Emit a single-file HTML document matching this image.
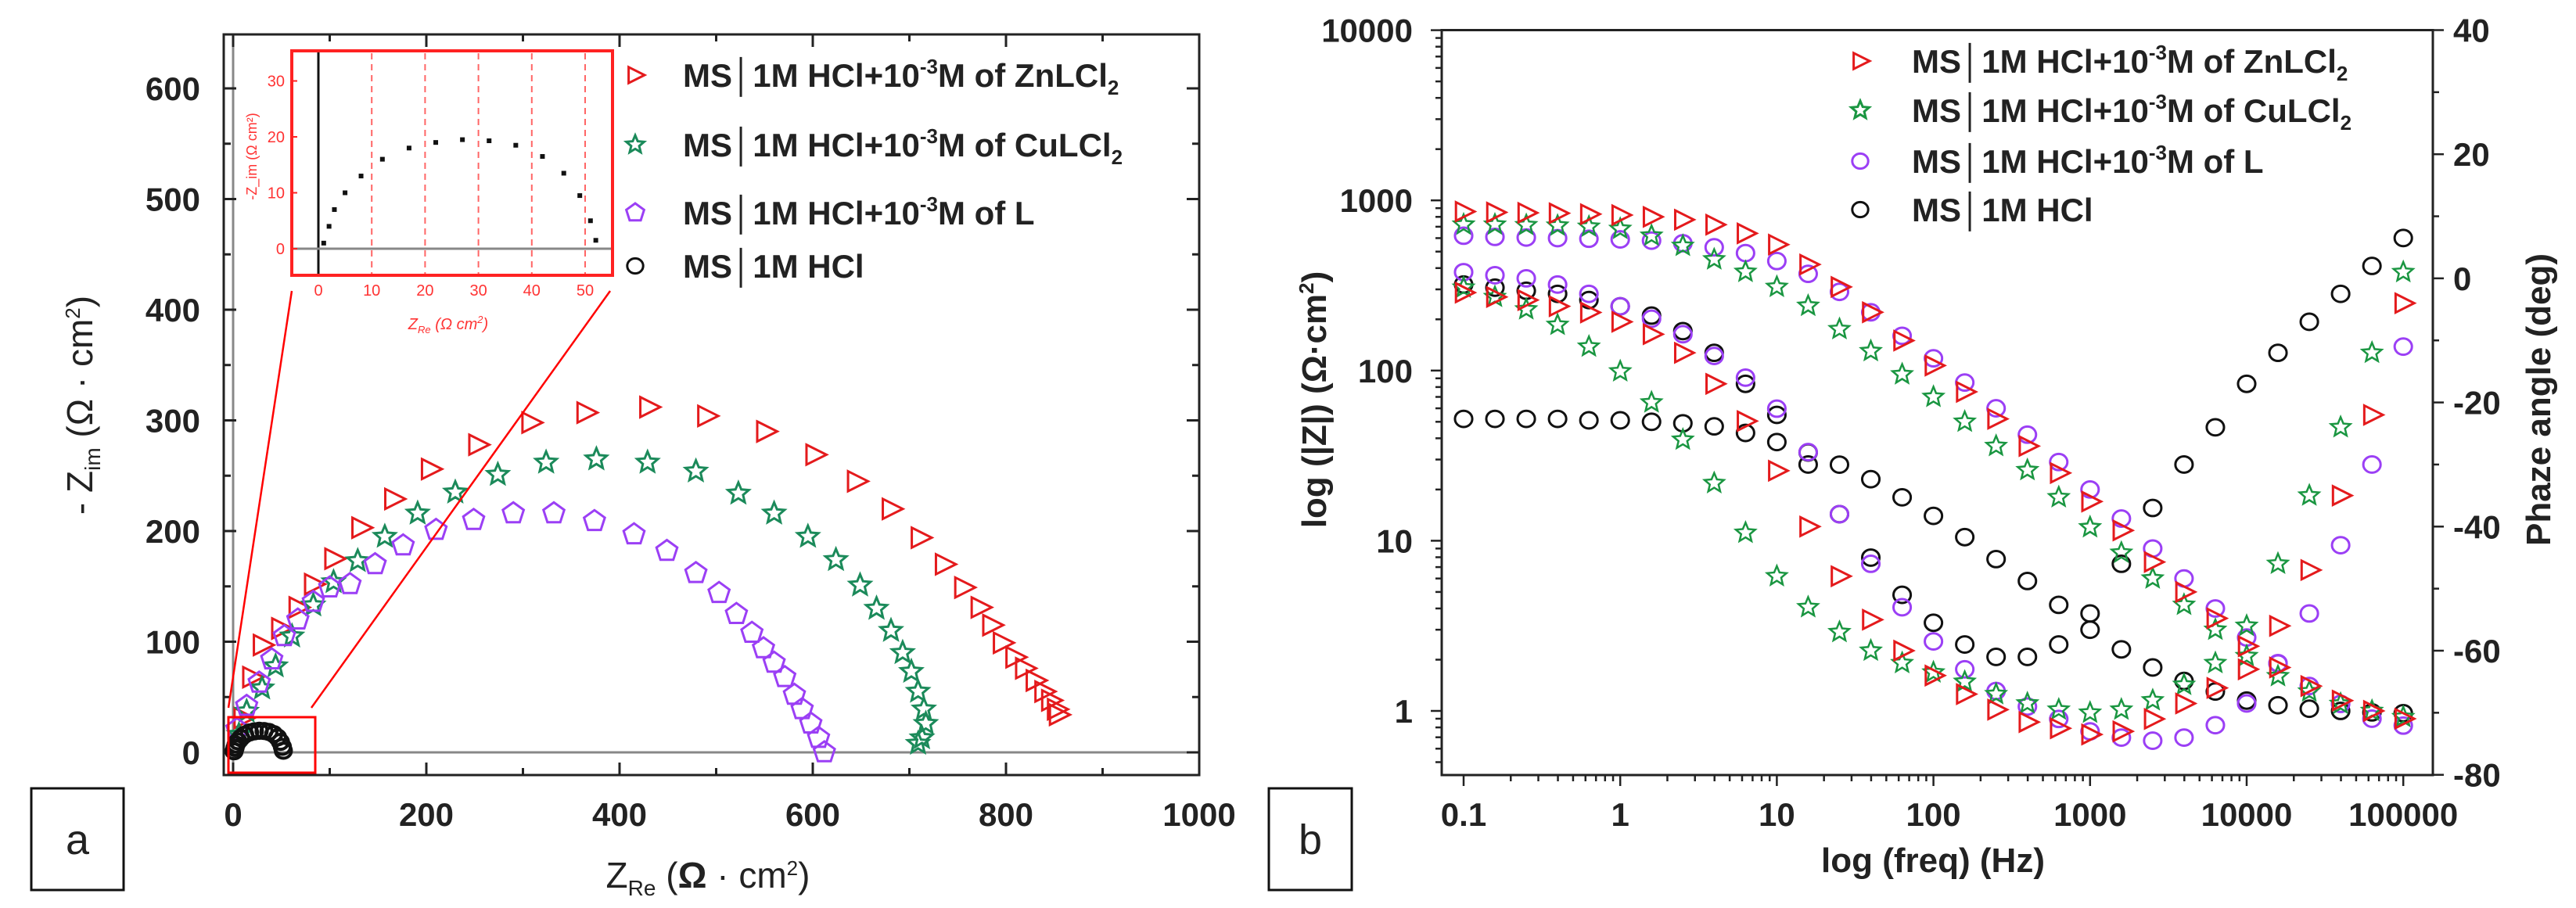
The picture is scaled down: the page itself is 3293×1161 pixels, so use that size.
<!DOCTYPE html>
<html><head><meta charset="utf-8"><style>
html,body{margin:0;padding:0;background:#fff;}
svg{display:block;font-family:"Liberation Sans",sans-serif;}
</style></head><body>
<svg id="chart" width="3293" height="1161" viewBox="0 0 3293 1161" xmlns="http://www.w3.org/2000/svg">
<g id="ga"></g>
<g id="gb"></g>
</svg>
<script>
// ---------- Panel a data (Nyquist) ----------
const znRe = [10,19,30,49,67,83,104,132,166,204,253,308,365,430,490,551,602,645,681,711,736,756,773,785,796,809,819,830,839,846,852,854];
const znIm = [31,68,97,112,131,152,175,203,229,256,278,298,307,312,304,290,269,245,220,194,170,149,131,115,99,86,76,65,55,47,39,34];
const cuRe = [6,14,30,44,61,83,104,129,157,191,230,274,324,376,429,479,523,560,595,624,649,666,681,693,702,709,715,717,713,709];
const cuIm = [16,37,58,78,105,133,154,173,195,216,235,251,262,265,262,254,234,216,195,174,151,130,110,90,73,55,39,26,13,8];
const lRe = [4,14,27,40,53,67,83,100,121,147,176,210,249,290,332,374,415,449,479,503,521,537,549,560,571,581,589,598,606,612];
const lIm = [21,42,63,84,105,120,136,149,152,170,187,201,210,216,216,209,197,182,162,144,125,108,94,81,68,52,39,26,13,0];
const hclRe = [1,2,3,5,8,12,17,22,27,32,37,42,46,49,51,52];
const hclIm = [1,4,7,10,13,16,18,19,19.5,19.3,18.5,16.5,13.5,9.5,5,1.5];
const aXTicks = [0,200,400,600,800,1000];
const aYTicks = [0,100,200,300,400,500,600];
const insetXTicks = [0,10,20,30,40,50];
const insetYTicks = [0,10,20,30];
// ---------- Panel b data (Bode) ----------
const logFreq = [-1,-0.8,-0.6,-0.4,-0.2,0,0.2,0.4,0.6,0.8,1,1.2,1.4,1.6,1.8,2,2.2,2.4,2.6,2.8,3,3.2,3.4,3.6,3.8,4,4.2,4.4,4.6,4.8,5];
const znZ = [860,850,845,840,830,820,800,770,720,640,550,420,310,220,150,107,75,52,36,25,17,11.5,7.5,5,3.5,2.4,1.8,1.4,1.15,1.0,0.9];
const cuZ = [720,720,715,710,700,680,620,540,450,380,310,240,175,130,95,70,50,36,26,18,12,8.5,6,4.2,3,2.1,1.6,1.3,1.1,1.0,0.92];
const lZ = [620,610,605,600,595,590,580,560,530,490,440,370,290,220,160,118,85,60,42,29,20,13.5,9,6,4,2.7,1.9,1.4,1.1,0.9,0.82];
const hclZ = [52,52,52,52,51,51,50,49,47,43,38,33,28,23,18,14,10.5,7.8,5.8,4.2,3.0,2.3,1.8,1.5,1.3,1.15,1.08,1.03,1.0,0.98,0.97];
const znPh = [-2.3,-3,-3.5,-4.5,-5.5,-7,-9,-12,-17,-23,-31,-40,-48,-55,-60,-64,-67,-69.5,-71.5,-72.5,-73.5,-73,-71,-68.5,-66,-63,-56,-47,-35,-22,-4];
const cuPh = [-1.5,-3,-5,-7.5,-11,-15,-20,-26,-33,-41,-48,-53,-57,-60,-62,-63.5,-65,-67,-68.5,-69.5,-70,-69.5,-68,-65.5,-62,-56,-46,-35,-24,-12,1];
const lPh = [1,0.5,0,-1,-2.5,-4.5,-6.5,-9,-12.5,-16,-21,-28,-38,-46,-53,-58.5,-63,-66.5,-69,-71,-73,-74,-74.5,-74,-72,-68.5,-62,-54,-43,-30,-11];
const hclPh = [-1,-1.5,-2,-2.5,-3.5,-4.5,-6,-8.5,-12,-17,-22,-30,-38,-45,-51,-55.5,-59,-61,-61,-59,-54,-46,-37,-30,-24,-17,-12,-7,-2.5,2,6.5];
const bXTicks = [0.1,1,10,100,1000,10000,100000];
const bXTickLabels = ["0.1","1","10","100","1000","10000","100000"];
const bYTicks = [1,10,100,1000,10000];
const bPhTicks = [-80,-60,-40,-20,0,20,40];

const NS="http://www.w3.org/2000/svg";
const RED="#e41a1c", GREEN="#1a9641", TEAL="#1b8a5a", PURPLE="#9b3ff5", BLACK="#111";
function mk(parent, tag, attrs){const e=document.createElementNS(NS,tag);for(const k in attrs)e.setAttribute(k,attrs[k]);parent.appendChild(e);return e;}
function txt(parent, x,y,s,attrs){const e=mk(parent,'text',Object.assign({x:x,y:y},attrs||{}));e.textContent=s;return e;}
function marker(g, shape, cx, cy, r, color, sw){
  let e;
  if(shape==='tri'){e=mk(g,'polygon',{points:`${cx-r*0.7},${cy-r*0.85} ${cx+r},${cy} ${cx-r*0.7},${cy+r*0.85}`});}
  else if(shape==='star'){let p=[];for(let i=0;i<10;i++){const a=-Math.PI/2+i*Math.PI/5;const rr=i%2?r*0.45:r;p.push((cx+rr*Math.cos(a)).toFixed(1)+','+(cy+rr*Math.sin(a)).toFixed(1));}e=mk(g,'polygon',{points:p.join(' ')});}
  else if(shape==='pent'){let p=[];for(let i=0;i<5;i++){const a=-Math.PI/2+i*2*Math.PI/5;p.push((cx+r*Math.cos(a)).toFixed(1)+','+(cy+r*Math.sin(a)).toFixed(1));}e=mk(g,'polygon',{points:p.join(' ')});}
  else {e=mk(g,'ellipse',{cx:cx,cy:cy,rx:r*0.85,ry:r*0.8});}
  e.setAttribute('fill','none');e.setAttribute('stroke',color);e.setAttribute('stroke-width',sw||3);
  return e;
}
const TF={'font-size':42,'font-weight':'bold',fill:'#222','font-family':'"Liberation Sans",sans-serif'};

// ================= Panel a =================
const ga=document.getElementById('ga');
const aL=286,aR=1533,aT=44,aB=991;
const ax=v=>298+v*1.235, ay=v=>962-v*1.415;
mk(ga,'rect',{x:aL,y:aT,width:aR-aL,height:aB-aT,fill:'none',stroke:'#222','stroke-width':3});
mk(ga,'line',{x1:aL,x2:aR,y1:ay(0),y2:ay(0),stroke:'#888','stroke-width':3});
mk(ga,'line',{x1:ax(0),x2:ax(0),y1:aT,y2:aB,stroke:'#888','stroke-width':3});
for(let v=0;v<=1000;v+=100){const L=v%200===0?16:9;mk(ga,'line',{x1:ax(v),x2:ax(v),y1:aB,y2:aB-L,stroke:'#222','stroke-width':3});mk(ga,'line',{x1:ax(v),x2:ax(v),y1:aT,y2:aT+L,stroke:'#222','stroke-width':3});}
for(let v=0;v<=650;v+=50){if(ay(v)<aT)continue;const L=v%100===0?16:9;mk(ga,'line',{x1:aL,x2:aL+L,y1:ay(v),y2:ay(v),stroke:'#222','stroke-width':3});mk(ga,'line',{x1:aR,x2:aR-L,y1:ay(v),y2:ay(v),stroke:'#222','stroke-width':3});}
aXTicks.forEach(v=>{const t=txt(ga,ax(v),1056,String(v),Object.assign({'text-anchor':'middle'},TF));});
aYTicks.forEach(v=>{const t=txt(ga,256,ay(v)+15,String(v),Object.assign({'text-anchor':'end'},TF));});
// titles
let t=txt(ga,905,1135,'',{'text-anchor':'middle','font-size':46,fill:'#222'});
t.innerHTML='Z<tspan font-size="28" dy="10">Re</tspan><tspan dy="-10"> (</tspan><tspan font-weight="bold">Ω</tspan> · cm<tspan font-size="26" dy="-16">2</tspan><tspan dy="16">)</tspan>';

t=txt(ga,0,0,'',{'text-anchor':'middle','font-size':46,fill:'#222',transform:'translate(118,518) rotate(-90)'});
t.innerHTML='- Z<tspan font-size="28" dy="10">im</tspan><tspan dy="-10"> (Ω · cm</tspan><tspan font-size="26" dy="-16">2</tspan><tspan dy="16">)</tspan>';

// series
const sa=mk(ga,'g',{});

znRe.forEach((v,i)=>{const m=marker(sa,'tri',ax(v),ay(znIm[i]),15,RED,3);});
cuRe.forEach((v,i)=>{const m=marker(sa,'star',ax(v),ay(cuIm[i]),14,TEAL,3);});
lRe.forEach((v,i)=>{const m=marker(sa,'pent',ax(v),ay(lIm[i]),14,PURPLE,3);});
hclRe.forEach((v,i)=>{const m=marker(sa,'circ',ax(v),ay(hclIm[i]),12,BLACK,4);});
// zoom box + lines
mk(ga,'rect',{x:292,y:917,width:111,height:71,fill:'none',stroke:'#f00','stroke-width':3});
mk(ga,'line',{x1:373,y1:372,x2:292,y2:905,stroke:'#f00','stroke-width':2.5});
mk(ga,'line',{x1:780,y1:372,x2:398,y2:905,stroke:'#f00','stroke-width':2.5});
// inset
const gi=mk(ga,'g',{});

mk(gi,'rect',{x:373,y:65,width:410,height:287,fill:'#fff',stroke:'none'});
const ix=v=>407+v*6.82, iy=v=>318-v*7.15;
insetXTicks.forEach(v=>{if(v>0)mk(gi,'line',{x1:ix(v),x2:ix(v),y1:68,y2:350,stroke:'#f66','stroke-width':2,'stroke-dasharray':'8 6'});});
mk(gi,'line',{x1:ix(0),x2:ix(0),y1:65,y2:352,stroke:'#111','stroke-width':3});
mk(gi,'line',{x1:373,x2:783,y1:iy(0),y2:iy(0),stroke:'#888','stroke-width':3});
mk(gi,'rect',{x:373,y:65,width:410,height:287,fill:'none',stroke:'#f22','stroke-width':4});
insetXTicks.forEach(v=>{const e=txt(gi,ix(v),378,String(v),{'text-anchor':'middle','font-size':20,fill:'#f33'});});
insetYTicks.forEach(v=>{const e=txt(gi,364,iy(v)+7,String(v),{'text-anchor':'end','font-size':20,fill:'#f33'});mk(gi,'line',{x1:373,x2:380,y1:iy(v),y2:iy(v),stroke:'#f22','stroke-width':2});});
hclRe.forEach((v,i)=>{const d=mk(gi,'rect',{x:ix(v)-3,y:iy(hclIm[i])-3,width:6,height:6,fill:'#111'});});
t=txt(gi,573,421,'',{'text-anchor':'middle','font-size':20,fill:'#f33','font-style':'italic'});
t.innerHTML='Z<tspan font-size="13" dy="5">Re</tspan><tspan dy="-5"> (Ω cm</tspan><tspan font-size="13" dy="-8">2</tspan><tspan dy="8">)</tspan>';

t=txt(gi,0,0,'-Z_im (Ω cm²)',{'text-anchor':'middle','font-size':18,fill:'#f33',transform:'translate(328,200) rotate(-90)'});

// legend a
const la=mk(ga,'g',{});

const legA=[['tri',RED,'MS│1M HCl+10','ZnLCl'],['star',TEAL,'MS│1M HCl+10','CuLCl'],['pent',PURPLE,'MS│1M HCl+10','L'],['circ',BLACK,'MS│1M HCl','']];
const legAy=[96,185,272,340];
legA.forEach((d,i)=>{marker(la,d[0],812,legAy[i],12,d[1],3);const e=txt(la,873,legAy[i]+15,'',{'font-size':42,'font-weight':'bold',fill:'#222'});
 if(i<3){e.innerHTML=d[2]+'<tspan font-size="26" dy="-17">-3</tspan><tspan dy="17">M of '+d[3]+'</tspan>'+(i<2?'<tspan font-size="26" dy="10">2</tspan>':'');}else e.textContent=d[2];
 });
// label box a
mk(ga,'rect',{x:40,y:1008,width:118,height:130,fill:'#fff',stroke:'#111','stroke-width':3});
t=txt(ga,99,1092,'a',{'text-anchor':'middle','font-size':54,fill:'#222'});


// ================= Panel b =================
const gb=document.getElementById('gb');
const bL=1843,bR=3110,bT=38.5,bB=991;
const bx=f=>1871+(Math.log10(f)+1)*200.2;
const bxl=l=>1871+(l+1)*200.2;
const by=z=>909-Math.log10(z)*217.6;
const bp=p=>38.5+(40-p)*7.935;
mk(gb,'rect',{x:bL,y:bT,width:bR-bL,height:bB-bT,fill:'none',stroke:'#222','stroke-width':3});
for(let d=-1;d<=5;d++){for(let k=1;k<10;k++){const f=k*Math.pow(10,d);if(f>140000)break;const X=bx(f);if(X<bL||X>bR)continue;mk(gb,'line',{x1:X,x2:X,y1:bB,y2:bB+(k===1?14:8),stroke:'#222','stroke-width':2.5});}}
for(let d=-1;d<=4;d++){for(let k=1;k<10;k++){const z=k*Math.pow(10,d);const Y=by(z);if(Y<bT||Y>bB)continue;mk(gb,'line',{x1:bL,x2:bL-(k===1?14:8),y1:Y,y2:Y,stroke:'#222','stroke-width':2.5});}}
for(let p=-80;p<=40;p+=10){mk(gb,'line',{x1:bR,x2:bR+(p%20===0?14:8),y1:bp(p),y2:bp(p),stroke:'#222','stroke-width':2.5});}
bXTicks.forEach((f,i)=>{const e=txt(gb,bx(f),1056,bXTickLabels[i],Object.assign({'text-anchor':'middle'},TF));});
bYTicks.forEach(z=>{const e=txt(gb,1806,by(z)+15,String(z),Object.assign({'text-anchor':'end'},TF));});
bPhTicks.forEach(p=>{const e=txt(gb,3136,bp(p)+15,String(p),Object.assign({'text-anchor':'start'},TF));});
t=txt(gb,2471,1115,'log (freq) (Hz)',{'text-anchor':'middle','font-size':44,'font-weight':'bold',fill:'#222'});

t=txt(gb,0,0,'',{'text-anchor':'middle','font-size':44,'font-weight':'bold',fill:'#222',transform:'translate(1695,511) rotate(-90)'});
t.innerHTML='log (|Z|) (Ω·cm<tspan font-size="26" dy="-16">2</tspan><tspan dy="16">)</tspan>';

t=txt(gb,0,0,'Phaze angle (deg)',{'text-anchor':'middle','font-size':44,'font-weight':'bold',fill:'#222',transform:'translate(3260,511) rotate(-90)'});

const sb=mk(gb,'g',{});

logFreq.forEach((l,i)=>{
 let m;
 m=marker(sb,'circ',bxl(l),by(hclZ[i]),13,BLACK,3);
 m=marker(sb,'circ',bxl(l),bp(hclPh[i]),13,BLACK,3);
 m=marker(sb,'circ',bxl(l),by(lZ[i]),13,PURPLE,3);
 m=marker(sb,'circ',bxl(l),bp(lPh[i]),13,PURPLE,3);
 m=marker(sb,'star',bxl(l),by(cuZ[i]),13,GREEN,2.5);
 m=marker(sb,'star',bxl(l),bp(cuPh[i]),13,GREEN,2.5);
 m=marker(sb,'tri',bxl(l),by(znZ[i]),14,RED,3);
 m=marker(sb,'tri',bxl(l),bp(znPh[i]),14,RED,3);
});
const lb=mk(gb,'g',{});

const legB=[['tri',RED,'MS│1M HCl+10','ZnLCl'],['star',GREEN,'MS│1M HCl+10','CuLCl'],['circ',PURPLE,'MS│1M HCl+10','L'],['circ',BLACK,'MS│1M HCl','']];
const legBy=[78,141,206,268];
legB.forEach((d,i)=>{marker(lb,d[0],2378,legBy[i],12,d[1],3);const e=txt(lb,2444,legBy[i]+15,'',{'font-size':42,'font-weight':'bold',fill:'#222'});
 if(i<3){e.innerHTML=d[2]+'<tspan font-size="26" dy="-17">-3</tspan><tspan dy="17">M of '+d[3]+'</tspan>'+(i<2?'<tspan font-size="26" dy="10">2</tspan>':'');}else e.textContent=d[2];
 });
mk(gb,'rect',{x:1622,y:1008,width:106,height:130,fill:'#fff',stroke:'#111','stroke-width':3});
t=txt(gb,1675,1092,'b',{'text-anchor':'middle','font-size':54,fill:'#222'});

</script>
</body></html>
